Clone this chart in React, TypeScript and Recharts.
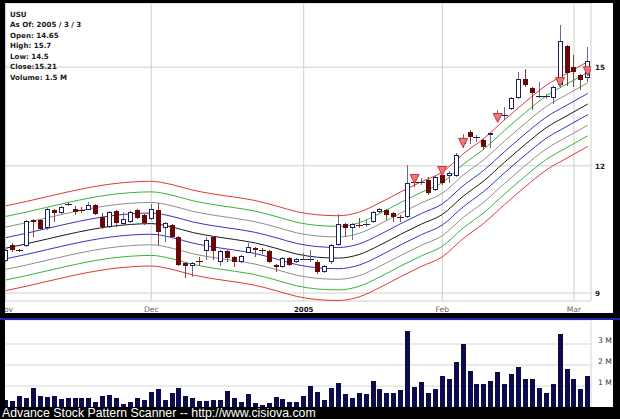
import { ComposedChart, Bar, Line, Scatter, XAxis, YAxis, CartesianGrid } from "recharts";

// daily OHLC, Nov 1 2004 .. Mar 3 2005 (index = trading day)
const opens = [
  9.68, 10.03, 9.91, 10.01, 10.62, 10.62, 10.43, 10.86, 10.79, 11.0, 10.88, 10.86, 10.86, 10.98, 10.69,
  10.45, 10.84, 10.52, 10.57, 10.86, 10.74, 10.64, 10.86, 10.43, 10.5, 10.22, 9.64, 9.57, 9.67, 9.9,
  10.22, 9.66, 9.9, 9.77, 9.66, 9.86, 9.97, 9.93, 9.9, 9.59, 9.55, 9.75, 9.66, 9.72, 9.7,
  9.66, 9.44, 9.66, 10.03, 10.52, 10.43, 10.5, 10.52, 10.57, 10.81, 10.86, 10.79, 10.7, 10.69, 11.57,
  11.56, 11.62, 11.36, 11.75, 11.72, 11.72, 12.62, 12.95, 12.8, 12.72, 12.86, 13.46, 13.45, 13.64, 13.98,
  14.61, 14.3, 14.03, 14.04, 13.98, 14.4, 15.73, 15.0, 14.73, 14.65,
];
const highs = [
  9.95, 10.07, 9.95, 10.62, 10.64, 10.64, 10.91, 10.88, 10.95, 11.06, 10.95, 10.93, 11.05, 11.0, 10.79,
  10.84, 10.86, 10.81, 10.83, 10.88, 10.76, 11.02, 11.04, 10.57, 10.52, 10.24, 9.66, 9.66, 9.77, 10.22,
  10.24, 9.92, 9.92, 9.79, 9.81, 10.07, 9.99, 9.97, 9.92, 9.61, 9.77, 9.77, 9.75, 9.86, 9.92,
  9.7, 9.59, 10.05, 10.76, 10.55, 10.55, 10.67, 10.62, 10.84, 10.91, 10.88, 10.81, 10.74, 12.02, 11.7,
  11.67, 11.7, 11.72, 11.8, 11.85, 12.35, 12.9, 13.0, 12.88, 12.75, 12.95, 13.6, 13.7, 14.02, 14.84,
  14.93, 14.33, 14.5, 14.12, 14.38, 16.5, 15.78, 15.41, 14.76, 15.7,
];
const lows = [
  9.66, 9.88, 9.88, 9.98, 10.22, 10.38, 10.38, 10.57, 10.77, 10.95, 10.74, 10.79, 10.85, 10.74, 10.41,
  10.43, 10.45, 10.5, 10.55, 10.64, 10.5, 10.62, 10.03, 10.1, 10.19, 9.57, 9.31, 9.33, 9.57, 9.7,
  9.7, 9.57, 9.66, 9.55, 9.64, 9.86, 9.77, 9.84, 9.64, 9.44, 9.52, 9.57, 9.64, 9.7, 9.66,
  9.4, 9.42, 9.61, 10.0, 10.22, 10.15, 10.43, 10.45, 10.55, 10.79, 10.62, 10.57, 10.57, 10.67, 11.44,
  11.49, 11.23, 11.33, 11.49, 11.54, 11.7, 12.5, 12.62, 12.66, 12.44, 12.5, 13.35, 13.31, 13.6, 13.95,
  14.35, 13.62, 14.0, 13.95, 13.8, 14.35, 14.37, 14.33, 14.24, 14.5,
];
const closes = [
  9.93, 9.92, 9.9, 10.6, 10.57, 10.41, 10.88, 10.79, 10.93, 11.01, 10.81, 10.85, 10.98, 10.76, 10.45,
  10.81, 10.55, 10.64, 10.81, 10.67, 10.55, 10.88, 10.33, 10.55, 10.22, 9.59, 9.57, 9.64, 9.66, 10.15,
  9.9, 9.9, 9.75, 9.66, 9.79, 9.99, 9.92, 9.92, 9.66, 9.55, 9.75, 9.59, 9.72, 9.73, 9.71,
  9.44, 9.57, 10.03, 10.52, 10.43, 10.52, 10.49, 10.53, 10.81, 10.88, 10.74, 10.69, 10.69, 11.54, 11.56,
  11.57, 11.28, 11.7, 11.54, 11.8, 12.3, 12.78, 12.8, 12.81, 12.52, 12.92, 13.5, 13.46, 13.98, 14.61,
  14.4, 14.14, 14.04, 14.05, 14.35, 15.9, 14.8, 14.84, 14.57, 15.21,
];
// volume in millions
const volumes = [
  0.35, 0.3, 0.51, 0.41, 0.89, 0.54, 0.46, 0.54, 0.38, 0.41, 0.43, 0.41, 0.41, 0.25, 0.54,
  0.57, 0.41, 0.14, 0.22, 0.44, 0.33, 0.7, 0.86, 0.33, 0.65, 0.89, 0.51, 0.41, 0.3, 0.3,
  0.33, 0.35, 0.78, 0.41, 0.22, 0.62, 0.19, 0.1, 0.19, 0.46, 0.38, 0.22, 0.22, 0.51, 0.98,
  0.7, 0.32, 0.89, 1.14, 0.63, 0.44, 0.67, 0.63, 1.24, 0.86, 0.68, 0.68, 0.79, 3.6, 0.94,
  1.21, 0.68, 0.84, 1.49, 1.32, 2.16, 3.0, 1.73, 1.1, 1.1, 1.24, 1.65, 1.1, 1.59, 1.9,
  1.33, 1.33, 0.9, 0.67, 1.1, 3.46, 1.8, 1.32, 0.86, 1.5,
];

// centre moving average, read every third day
const maDays = [0, 3, 6, 9, 12, 15, 18, 21, 24, 27, 30, 33, 36, 39, 42, 45, 48, 51, 54, 57, 60, 63, 66, 69, 72, 75, 78, 81, 84];
const maValues = [
  9.96, 10.06, 10.17, 10.28, 10.38, 10.46, 10.51, 10.53, 10.45, 10.32, 10.23, 10.16, 10.08, 9.96, 9.83,
  9.76, 9.74, 9.82, 10.03, 10.28, 10.52, 10.75, 11.2, 11.6, 12.1, 12.6, 13.08, 13.44, 13.8,
];
// envelope steps (log10 units each) and colours, top to bottom
const bandSteps = [4, 3, 2, 1, 0, -1, -2, -3, -4];
const bandStepSize = 0.0104;
const bandColors = ["#e03838", "#38b438", "#8e8e8e", "#3434c4", "#1a1a1a", "#3434c4", "#8e8e8e", "#38b438", "#e03838"];

const signalDays = [59, 63, 66, 71, 80, 84];
const signalPrices = [11.65, 11.86, 12.64, 13.37, 14.5, 14.86];

const tickDays = [0, 21, 43, 63, 82];
const tickLabels = ["Nov", "Dec", "2005", "Feb", "Mar"];
const priceTicks = [9, 12, 15];
const volumeTicks = [1, 2, 3];

const infoLines = ["USU", "As Of: 2005 / 3 / 3", "Open: 14.65", "High: 15.7", "Low: 14.5", "Close:15.21", "Volume: 1.5 M"];

const FONT = "'DejaVu Sans', Verdana, sans-serif";
const FOOTER_FONT = "'Liberation Sans', Arial, sans-serif";
const X_DOMAIN: [number, number] = [-0.8225, 84.46];

type Row = {
  day: number;
  open: number;
  high: number;
  low: number;
  close: number;
  range: [number, number];
  volume: number;
  [band: string]: number | [number, number] | undefined;
};

function buildRows(): Row[] {
  const rows: Row[] = opens.map((open, day) => ({
    day,
    open,
    high: highs[day],
    low: lows[day],
    close: closes[day],
    range: [lows[day], highs[day]],
    volume: volumes[day],
  }));
  maDays.forEach((day, i) => {
    bandSteps.forEach((step, k) => {
      rows[day][`b${k}`] = maValues[i] * Math.pow(10, step * bandStepSize);
    });
  });
  return rows;
}

const rows = buildRows();
const signals = signalDays.map((day, i) => ({ day, price: signalPrices[i] }));

function Candle(props: any) {
  const { x, y, width, height, payload } = props;
  if (x == null || !payload) return null;
  const { open, close, high, low } = payload;
  const lh = Math.log(high);
  const ll = Math.log(low);
  const py = (v: number) => (lh === ll ? y : y + (height * (lh - Math.log(v))) / (lh - ll));
  const c = Math.round(x + width / 2 - 0.5);
  const up = close >= open;
  const top = Math.round(py(Math.max(open, close)));
  const bot = Math.round(py(Math.min(open, close)));
  const wick = up ? "#6c6c8c" : "#7a4646";
  const body = up ? "#1e1e5a" : "#6a0808";

  return (
    <g shapeRendering="crispEdges">
      <line x1={c + 0.5} x2={c + 0.5} y1={Math.round(y)} y2={Math.round(y + height)} stroke={wick} />
      {bot - top < 2 ? (
        <line x1={c - 3} x2={c + 4} y1={top + 0.5} y2={top + 0.5} stroke={body} />
      ) : up ? (
        <rect x={c - 1.5} y={top + 0.5} width={4} height={bot - top - 1} fill="#fff" stroke={body} />
      ) : (
        <rect x={c - 2} y={top} width={5} height={bot - top} fill={body} />
      )}
    </g>
  );
}

function Triangle(props: any) {
  const { cx, cy } = props;
  if (cx == null) return null;
  const pts = `${cx - 4.5},${cy - 4.5} ${cx + 4.5},${cy - 4.5} ${cx},${cy + 4.5}`;
  return <polygon points={pts} fill="#f27676" stroke="#c03a3a" strokeWidth={1} />;
}

function VolumeBar(props: any) {
  const { x, y, width, height } = props;
  if (x == null || !height) return null;
  const left = Math.round(x + width / 2 - 2.5);
  return <rect x={left} y={Math.round(y)} width={5} height={Math.max(Math.round(y + height) - Math.round(y), 1)} fill="#0b0b4e" shapeRendering="crispEdges" />;
}

function DateTick(props: any) {
  const { x, y, payload } = props;
  const label = tickLabels[tickDays.indexOf(payload.value)];
  const isYear = label === "2005";
  return (
    <text x={x} y={y + 10.5} textAnchor="middle" fontSize={isYear ? 7 : 7.6} fontFamily={FONT} fill={isYear ? "#111" : "#666"} fontWeight={isYear ? "bold" : "normal"}>
      {label}
    </text>
  );
}

function PriceTick(props: any) {
  const { x, y, payload } = props;
  return (
    <text x={x + 4} y={y + 3} fontSize={7.2} fontWeight="bold" fontFamily={FONT} fill="#222">
      {payload.value}
    </text>
  );
}

function VolumeTick(props: any) {
  const { x, y, payload } = props;
  return (
    <text x={x + 7} y={y - 1.5} fontSize={7.6} fontFamily={FONT} fill="#333">
      {`${payload.value} M`}
    </text>
  );
}

export default function App() {
  return (
    <div style={{ position: "relative", width: 620, height: 419, background: "#000", overflow: "hidden" }}>
      <style>{"body{margin:0}"}</style>

      <div style={{ position: "absolute", left: 5, top: 3, width: 608, height: 310, background: "#fff", overflow: "hidden" }}>
        <div style={{ position: "absolute", left: -5, top: -3 }}>
          <ComposedChart width={620} height={313} data={rows} margin={{ top: 3, right: 0, bottom: 0, left: 0 }}>
            <CartesianGrid stroke="#cfcfcf" />
            <XAxis
              dataKey="day"
              type="number"
              domain={X_DOMAIN}
              allowDataOverflow
              ticks={tickDays}
              interval={0}
              height={12}
              tickSize={0}
              tickMargin={0}
              axisLine={false}
              tickLine={false}
              tick={<DateTick />}
            />
            <YAxis
              orientation="right"
              scale="log"
              domain={[8.84, 17.34]}
              allowDataOverflow
              ticks={priceTicks}
              interval={0}
              width={29}
              tickSize={0}
              tickMargin={0}
              axisLine={false}
              tickLine={false}
              tick={<PriceTick />}
            />
            {bandSteps.map((step, k) => (
              <Line
                key={step}
                dataKey={`b${k}`}
                type="monotone"
                stroke={bandColors[k]}
                strokeWidth={1}
                dot={false}
                connectNulls
                isAnimationActive={false}
              />
            ))}
            <Bar dataKey="range" barSize={5} shape={<Candle />} isAnimationActive={false} zIndex={500} />
            <Scatter data={signals} dataKey="price" shape={<Triangle />} isAnimationActive={false} zIndex={600} />
          </ComposedChart>
        </div>
      </div>

      <div style={{ position: "absolute", left: 0, top: 318, width: 620, height: 2, background: "#2525a8" }} />

      <div style={{ position: "absolute", left: 5, top: 320, width: 608, height: 87, background: "#fff", overflow: "hidden" }}>
        <div style={{ position: "absolute", left: -5, top: 0 }}>
          <ComposedChart width={620} height={87} data={rows} margin={{ top: 0, right: 0, bottom: 0, left: 0 }}>
            <CartesianGrid stroke="#d6d6d6" />
            <XAxis
              dataKey="day"
              type="number"
              domain={X_DOMAIN}
              allowDataOverflow
              ticks={tickDays}
              interval={0}
              height={0}
              tick={false}
              axisLine={false}
              tickLine={false}
            />
            <YAxis
              orientation="right"
              domain={[0, 4.143]}
              allowDataOverflow
              ticks={volumeTicks}
              interval={0}
              width={29}
              tickSize={0}
              tickMargin={0}
              axisLine={false}
              tickLine={false}
              tick={<VolumeTick />}
            />
            <Bar dataKey="volume" barSize={5} shape={<VolumeBar />} isAnimationActive={false} />
          </ComposedChart>
        </div>
      </div>

      <svg width={620} height={419} style={{ position: "absolute", left: 0, top: 0, pointerEvents: "none" }}>
        {infoLines.map((line, i) => (
          <text key={line} x={10} y={16.5 + i * 10.55} fontSize={7.1} fontWeight="bold" fontFamily={FONT} fill="#1a1a1a">
            {line}
          </text>
        ))}
        <text x={2} y={417} fontSize={12.3} fontFamily={FOOTER_FONT} fill="#fff">
          Advance Stock Pattern Scanner -- http://www.cisiova.com
        </text>
      </svg>
    </div>
  );
}
